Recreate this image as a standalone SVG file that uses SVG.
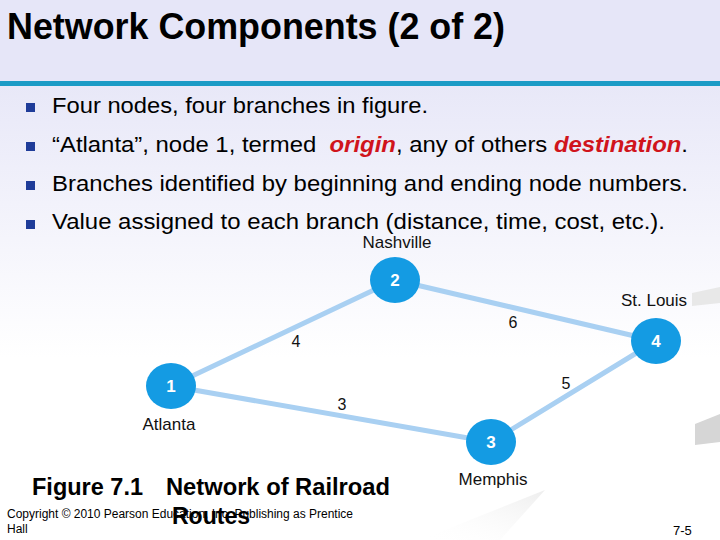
<svg xmlns="http://www.w3.org/2000/svg" width="720" height="540" viewBox="0 0 720 540">
<defs>
<linearGradient id="bg" x1="0" y1="0" x2="0" y2="1">
<stop offset="0" stop-color="#e8e8f8"/>
<stop offset="0.6" stop-color="#ffffff"/>
<stop offset="1" stop-color="#ffffff"/>
</linearGradient>
<linearGradient id="wedge" x1="0" y1="1" x2="1" y2="0">
<stop offset="0" stop-color="#ffffff" stop-opacity="0"/>
<stop offset="1" stop-color="#e6e6e6"/>
</linearGradient>
<style>
.t{font-family:"Liberation Sans",Arial,sans-serif;fill:#000}
.bul{fill:#1f3c99}
.edge{stroke:#a9d0f2;stroke-width:5;fill:none;stroke-linecap:round}
.node{fill:#149be3}
.num{font-family:"Liberation Sans",Arial,sans-serif;font-weight:bold;font-size:17px;fill:#fff;text-anchor:middle}
.city{font-family:"Liberation Sans",Arial,sans-serif;font-size:17px;fill:#111}
.elab{font-family:"Liberation Sans",Arial,sans-serif;font-size:16px;fill:#111;text-anchor:middle}
.red{fill:#d0141c;font-weight:bold;font-style:italic}
</style>
</defs>
<rect x="0" y="0" width="720" height="540" fill="#ffffff"/>
<rect x="0" y="85" width="720" height="455" fill="url(#bg)"/>
<rect x="0" y="0" width="720" height="81" fill="#e6e6f8"/>
<rect x="0" y="81" width="720" height="5" fill="#1b9bc6"/>
<text class="t" x="7" y="39" font-size="36" font-weight="bold" fill="#0a0a1a" textLength="498" lengthAdjust="spacingAndGlyphs">Network Components (2 of 2)</text>

<g id="bullets">
<rect class="bul" x="26" y="103" width="9" height="9"/>
<rect class="bul" x="26" y="142" width="9" height="9"/>
<rect class="bul" x="26" y="181" width="9" height="9"/>
<rect class="bul" x="26" y="220" width="9" height="9"/>
<text class="t" x="52" y="113" font-size="22" textLength="376" lengthAdjust="spacingAndGlyphs">Four nodes, four branches in figure.</text>
<text class="t" x="52" y="152" font-size="22" xml:space="preserve" textLength="636" lengthAdjust="spacingAndGlyphs">“Atlanta”, node 1, termed  <tspan class="red">origin</tspan>, any of others <tspan class="red">destination</tspan>.</text>
<text class="t" x="52" y="191" font-size="22" textLength="636" lengthAdjust="spacingAndGlyphs">Branches identified by beginning and ending node numbers.</text>
<text class="t" x="52" y="229" font-size="22" textLength="613" lengthAdjust="spacingAndGlyphs">Value assigned to each branch (distance, time, cost, etc.).</text>
</g>

<polygon points="692,293 720,287 720,303 692,306" fill="#e8e8e8"/>
<polygon points="695,424 720,414 720,442 695,445" fill="#d6d6d6"/>
<polygon points="420,540 520,500 545,490 500,540" fill="url(#wedge)" opacity="0.7"/>

<g id="connectors">
<line class="edge" x1="171" y1="386" x2="395" y2="280"/>
<line class="edge" x1="395" y1="280" x2="656" y2="341"/>
<line class="edge" x1="171" y1="386" x2="491" y2="442"/>
<line class="edge" x1="491" y1="442" x2="656" y2="341"/>
<text class="elab" x="296" y="347">4</text>
<text class="elab" x="513" y="328">6</text>
<text class="elab" x="566" y="389">5</text>
<text class="elab" x="342" y="410">3</text>
</g>

<g id="node1">
<ellipse class="node" cx="171" cy="386" rx="25" ry="23"/>
<text class="num" x="171" y="392">1</text>
<text class="city" x="169" y="430" text-anchor="middle">Atlanta</text>
</g>
<g id="node2">
<ellipse class="node" cx="395" cy="280" rx="25" ry="23"/>
<text class="num" x="395" y="286">2</text>
<text class="city" x="397" y="248" text-anchor="middle">Nashville</text>
</g>
<g id="node3">
<ellipse class="node" cx="491" cy="442" rx="25" ry="23"/>
<text class="num" x="491" y="448">3</text>
<text class="city" x="493" y="485" text-anchor="middle">Memphis</text>
</g>
<g id="node4">
<ellipse class="node" cx="656" cy="341" rx="25" ry="23"/>
<text class="num" x="656" y="347">4</text>
<text class="city" x="654" y="306" text-anchor="middle">St. Louis</text>
</g>

<g id="caption">
<text class="t" x="32" y="495" font-size="23" font-weight="bold" textLength="111" lengthAdjust="spacingAndGlyphs">Figure 7.1</text>
<text class="t" x="166" y="495" font-size="23" font-weight="bold" textLength="224" lengthAdjust="spacingAndGlyphs">Network of Railroad</text>
<text class="t" x="172" y="524" font-size="23" font-weight="bold" textLength="78" lengthAdjust="spacingAndGlyphs">Routes</text>
</g>
<text class="t" x="7" y="518" font-size="12" textLength="346" lengthAdjust="spacingAndGlyphs">Copyright © 2010 Pearson Education, Inc. Publishing as Prentice</text>
<text class="t" x="7" y="533" font-size="12">Hall</text>
<text class="t" x="673" y="535" font-size="13">7-5</text>
</svg>
